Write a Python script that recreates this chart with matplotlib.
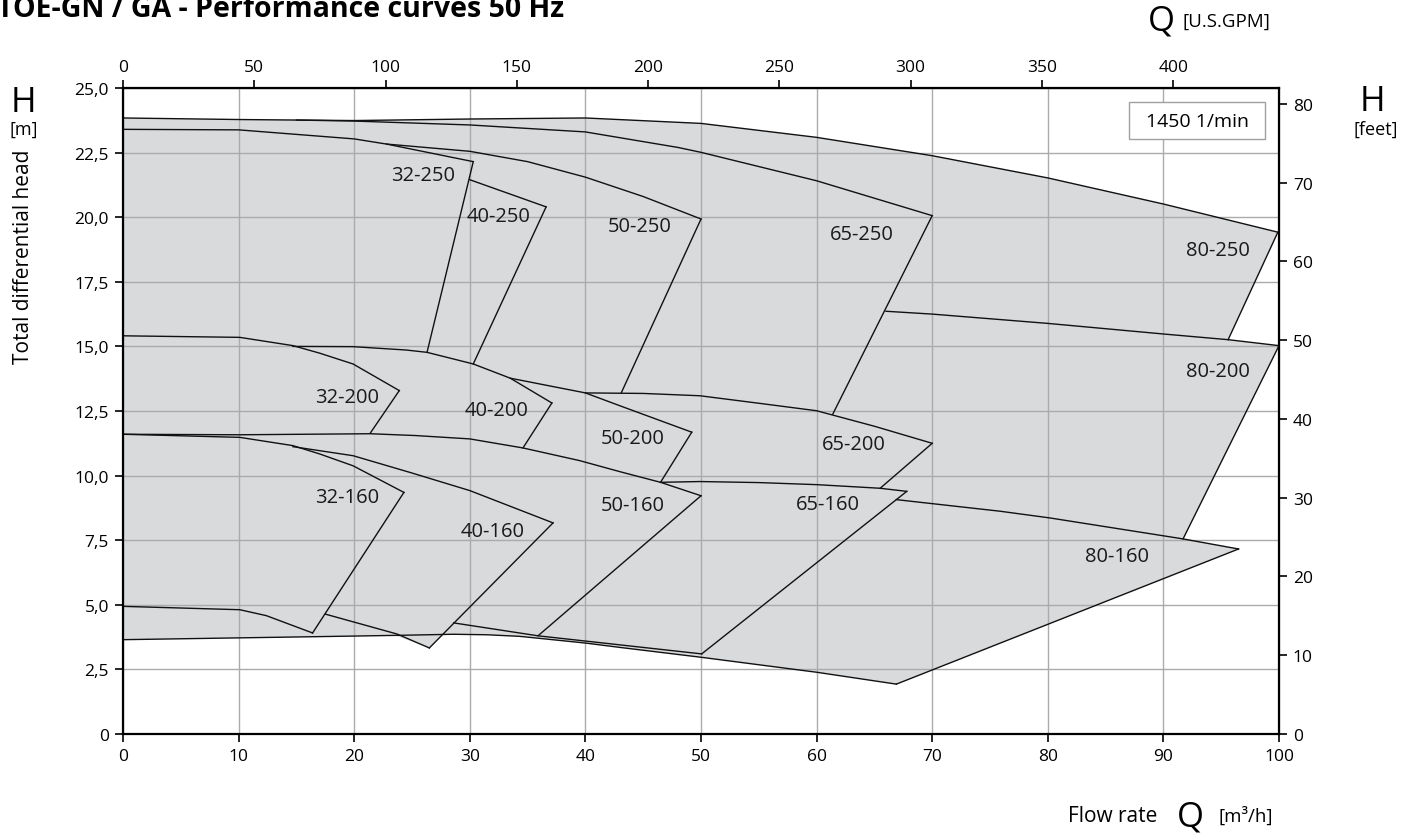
import numpy as np
import matplotlib.pyplot as plt
from matplotlib.patches import Polygon, Rectangle

plt.rcParams['font.family'] = ['Open Sans', 'DejaVu Sans']

# Curves, points are (Q [m3/h], H [m])
# --- 250 family: max impeller curves and end-of-curve lines
top_32_250 = [(0, 23.40), (10, 23.38), (20, 23.03), (22.8, 22.83), (30.3, 22.15)]
top_40_250 = [(30.0, 21.45), (36.6, 20.40)]
top_50_250 = [(22.8, 22.83), (30, 22.55), (35, 22.15), (40, 21.55), (45, 20.80), (50, 19.93)]
top_65_250 = [(15, 23.76), (20, 23.72), (30, 23.57), (40, 23.30), (48, 22.70),
              (50, 22.51), (60, 21.41), (70, 20.06)]
top_80_250 = [(0, 23.84), (10, 23.78), (20, 23.74), (30, 23.80), (40, 23.84), (50, 23.63),
              (60, 23.09), (70, 22.38), (80, 21.52), (90, 20.51), (99.9, 19.42)]
edge_32_250 = [(30.3, 22.15), (26.3, 14.77)]
edge_40_250 = [(36.6, 20.40), (30.3, 14.32)]
edge_50_250 = [(50.0, 19.93), (43.1, 13.20)]
edge_65_250 = [(70.0, 20.06), (61.4, 12.38)]
edge_80_250 = [(99.9, 19.42), (95.6, 15.26)]

# --- 200 family
top_32_200 = [(0, 15.41), (10.1, 15.35), (14.7, 15.03), (17.0, 14.74), (19.9, 14.32), (23.9, 13.29)]
top_40_200 = [(14.7, 15.00), (19.9, 14.99), (24.5, 14.86), (26.3, 14.77), (30.3, 14.32),
              (33.5, 13.77), (37.1, 12.81)]
top_50_200 = [(33.5, 13.77), (40, 13.20), (43, 12.70), (49.2, 11.68)]
top_65_200 = [(40, 13.20), (45, 13.18), (49.9, 13.09), (55, 12.80), (60, 12.51),
              (65, 11.91), (70, 11.25)]
top_80_200 = [(66.0, 16.36), (70, 16.25), (80, 15.89), (90, 15.48), (95.6, 15.26), (100, 15.03)]
edge_32_200 = [(23.9, 13.29), (21.4, 11.65)]
edge_40_200 = [(37.1, 12.81), (34.6, 11.07)]
edge_50_200 = [(49.2, 11.68), (46.5, 9.74)]
edge_65_200 = [(70.0, 11.25), (65.5, 9.51)]
edge_80_200 = [(100.0, 15.03), (91.7, 7.55)]

# --- 160 family
top_32_160 = [(0, 11.60), (10.1, 11.48), (14.7, 11.16), (17.0, 10.84), (19.9, 10.38), (24.3, 9.35)]
top_40_160 = [(14.7, 11.12), (19.9, 10.77), (25, 10.10), (30, 9.42), (37.2, 8.17)]
top_50_160 = [(0, 11.60), (10, 11.58), (21.4, 11.62), (25.3, 11.55), (30, 11.42), (34.6, 11.07),
              (39.5, 10.58), (43, 10.15), (46.5, 9.74), (50, 9.22)]
top_65_160 = [(46.5, 9.74), (49.9, 9.77), (55, 9.73), (60, 9.65), (65.5, 9.51), (67.8, 9.39)]
top_80_160 = [(66.9, 9.07), (75.9, 8.62), (80.2, 8.36), (90, 7.67), (91.7, 7.55), (96.5, 7.16)]
edge_32_160 = [(24.3, 9.35), (16.4, 3.91)]
edge_40_160 = [(37.2, 8.17), (26.5, 3.33)]
edge_50_160 = [(50.0, 9.22), (35.9, 3.80)]
edge_65_160 = [(67.8, 9.39), (50.06, 3.10)]
edge_80_160 = [(96.5, 7.16), (66.9, 1.93)]

# min impeller curves
min_32_160 = [(0, 4.94), (10.1, 4.81), (12.4, 4.58), (16.4, 3.91)]
min_40_160 = [(17.5, 4.64), (23.7, 3.87), (26.5, 3.33)]
min_65_160 = [(28.6, 4.30), (35.9, 3.80), (50.06, 3.10)]
min_80_160 = [(0, 3.65), (10, 3.72), (20, 3.79), (24, 3.82), (28.6, 3.86), (31.5, 3.84),
              (34.3, 3.78), (40, 3.52), (43, 3.35), (50, 2.97), (60, 2.39), (66.9, 1.93)]

# model labels and where they sit
models = ['32-250', '40-250', '50-250', '65-250', '80-250',
          '32-200', '40-200', '50-200', '65-200', '80-200',
          '32-160', '40-160', '50-160', '65-160', '80-160']
label_q = [26.0, 32.5, 44.7, 63.9, 94.75, 19.4, 32.3, 44.1, 63.2, 94.75, 19.4, 32.0, 44.1, 61.0, 86.0]
label_h = [21.65, 20.06, 19.67, 19.35, 18.74, 13.03, 12.54, 11.46, 11.22, 14.04,
           9.16, 7.87, 8.87, 8.9, 6.88]

gpm_per_m3h = 4.40287
ft_per_m = 3.28084

lines = [top_32_250, top_40_250, top_50_250, top_65_250, top_80_250,
         edge_32_250, edge_40_250, edge_50_250, edge_65_250, edge_80_250,
         top_32_200, top_40_200, top_50_200, top_65_200, top_80_200,
         edge_32_200, edge_40_200, edge_50_200, edge_65_200, edge_80_200,
         top_32_160, top_40_160, top_50_160, top_65_160, top_80_160,
         edge_32_160, edge_40_160, edge_50_160, edge_65_160, edge_80_160,
         min_32_160, min_40_160, min_65_160, min_80_160]

# outer boundary of the grey area
outline = (top_80_250
           + [p for p in top_80_200 if p[0] >= 95.6]
           + [p for p in top_80_160 if p[0] >= 91.7]
           + [p for p in min_80_160[::-1] if p[0] > 27.6]
           + [(27.6, 3.86), edge_40_160[1], (23.5, 3.82)]
           + [p for p in min_80_160[::-1] if p[0] < 23.5])

W, H = 1413, 837
fig = plt.figure(figsize=(W / 100, H / 100), dpi=100)
ax = fig.add_axes([123 / W, 1 - 735 / H, (1279 - 123) / W, (735 - 89) / H])

ax.add_patch(Polygon(outline, closed=True, facecolor='#d9dadc', edgecolor='none', zorder=1))

for ln in lines:
    arr = np.array(ln)
    ax.plot(arr[:, 0], arr[:, 1], color='#111111', lw=1.0, zorder=3, solid_joinstyle='miter')

for name, q, h in zip(models, label_q, label_h):
    ax.text(q, h, name, fontsize=14.5, ha='center', va='center', color='#1a1a1a', zorder=4)

ax.set_xlim(0, 100)
ax.set_ylim(0, 25)
ax.set_xticks(np.arange(0, 101, 10))
ax.set_yticks(np.arange(0, 25.1, 2.5))
ax.set_yticklabels(['0'] + [f'{v:.1f}'.replace('.', ',') for v in np.arange(2.5, 25.1, 2.5)])
ax.grid(True, color='#ababab', lw=1.0, zorder=2)
ax.set_axisbelow(False)
ax.tick_params(direction='out', length=6, width=1.2, labelsize=12.5, color='black', pad=4)
for sp in ax.spines.values():
    sp.set_linewidth(1.6)
    sp.set_color('black')
    sp.set_zorder(5)

top = ax.secondary_xaxis('top', functions=(lambda q: q * gpm_per_m3h, lambda g: g / gpm_per_m3h))
top.set_xticks(np.arange(0, 401, 50))
top.tick_params(direction='out', length=6, width=1.2, labelsize=12.5, pad=3)

right = ax.secondary_yaxis('right', functions=(lambda h: h * ft_per_m, lambda f: f / ft_per_m))
right.set_yticks(np.arange(0, 81, 10))
right.tick_params(direction='out', length=6, width=1.2, labelsize=12.5, pad=4)

# speed box
fig.add_artist(Rectangle((1129 / W, 1 - 140 / H), 136 / W, 37 / H, transform=fig.transFigure,
                         facecolor='white', edgecolor='#a0a0a0', lw=1.0, zorder=6))
fig.text(1197 / W, 1 - 122 / H, '1450 1/min', fontsize=14, ha='center', va='center', zorder=7)

# titles and axis captions
fig.text(-3 / W, 1 - 17 / H, 'TOE-GN / GA - Performance curves 50 Hz', fontsize=20.5,
         fontweight='bold', ha='left', va='baseline')
fig.text(1161 / W, 1 - 21 / H, 'Q', fontsize=25, ha='center', va='center')
fig.text(1183 / W, 1 - 22 / H, '[U.S.GPM]', fontsize=13.5, ha='left', va='center')
fig.text(1372 / W, 1 - 102 / H, 'H', fontsize=25, ha='center', va='center')
fig.text(1376 / W, 1 - 130 / H, '[feet]', fontsize=13, ha='center', va='center')
fig.text(23 / W, 1 - 103 / H, 'H', fontsize=25, ha='center', va='center')
fig.text(24 / W, 1 - 130 / H, '[m]', fontsize=13, ha='center', va='center')
fig.text(24 / W, 1 - 257 / H, 'Total differential head', fontsize=15, rotation=90,
         ha='center', va='center')
fig.text(1113 / W, 1 - 817 / H, 'Flow rate', fontsize=15, ha='center', va='center')
fig.text(1190 / W, 1 - 818 / H, 'Q', fontsize=25, ha='center', va='center')
fig.text(1218 / W, 1 - 816 / H, '[m³/h]', fontsize=13.5, ha='left', va='center')

fig.savefig('out.png', dpi=100)
